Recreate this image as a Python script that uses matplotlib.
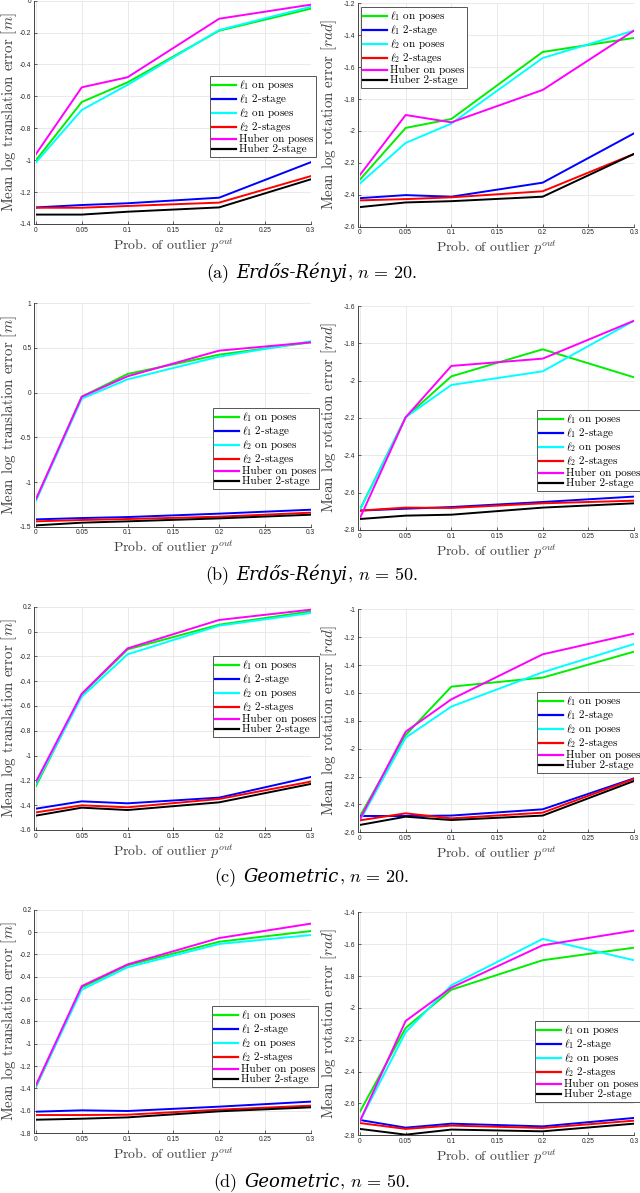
import numpy as np
import matplotlib
matplotlib.use('Agg')
import matplotlib.pyplot as plt
from matplotlib.ticker import MultipleLocator, FuncFormatter

plt.rcParams['mathtext.fontset'] = 'cm'
plt.rcParams['axes.unicode_minus'] = False
plt.rcParams['font.family'] = ['cmr10', 'DejaVu Serif']

W, H = 640, 1193

p_out = [0, 0.05, 0.1, 0.2, 0.3]
methods = [r'$\ell_1$ on poses', r'$\ell_1$ 2-stage', r'$\ell_2$ on poses',
           r'$\ell_2$ 2-stages', 'Huber on poses', 'Huber 2-stage']
colors = ['#00ee00', '#0000ff', '#00ffff', '#ff0000', '#ff00ff', '#000000']

# rows follow the order of `methods`
er20_trans = [
	[-1.000, -0.635, -0.512, -0.188, -0.050],
	[-1.296, -1.281, -1.270, -1.235, -1.013],
	[-1.013, -0.685, -0.528, -0.184, -0.038],
	[-1.298, -1.298, -1.287, -1.266, -1.100],
	[-0.961, -0.543, -0.480, -0.113, -0.025],
	[-1.341, -1.341, -1.323, -1.296, -1.120],
]
er20_rot = [
	[-2.304, -1.981, -1.925, -1.505, -1.417],
	[-2.421, -2.402, -2.412, -2.324, -2.015],
	[-2.329, -2.075, -1.954, -1.543, -1.371],
	[-2.435, -2.427, -2.416, -2.378, -2.144],
	[-2.275, -1.900, -1.946, -1.743, -1.371],
	[-2.477, -2.448, -2.440, -2.412, -2.144],
]
er50_trans = [
	[-1.200, -0.045, 0.209, 0.425, 0.563],
	[-1.418, -1.403, -1.392, -1.354, -1.310],
	[-1.209, -0.067, 0.149, 0.403, 0.575],
	[-1.440, -1.425, -1.414, -1.388, -1.343],
	[-1.190, -0.045, 0.183, 0.470, 0.563],
	[-1.485, -1.455, -1.440, -1.407, -1.366],
]
er50_rot = [
	[-2.689, -2.196, -1.977, -1.832, -1.982],
	[-2.696, -2.686, -2.677, -2.650, -2.621],
	[-2.693, -2.196, -2.023, -1.950, -1.679],
	[-2.696, -2.680, -2.682, -2.657, -2.643],
	[-2.736, -2.196, -1.921, -1.882, -1.679],
	[-2.741, -2.723, -2.718, -2.680, -2.657],
]
geo20_trans = [
	[-1.245, -0.507, -0.144, 0.055, 0.162],
	[-1.428, -1.369, -1.385, -1.339, -1.173],
	[-1.227, -0.525, -0.184, 0.047, 0.149],
	[-1.458, -1.401, -1.417, -1.350, -1.210],
	[-1.210, -0.501, -0.136, 0.093, 0.176],
	[-1.484, -1.420, -1.439, -1.377, -1.229],
]
geo20_rot = [
	[-2.483, -1.902, -1.555, -1.490, -1.304],
	[-2.483, -2.483, -2.480, -2.435, -2.213],
	[-2.514, -1.921, -1.698, -1.452, -1.249],
	[-2.514, -2.464, -2.500, -2.459, -2.217],
	[-2.504, -1.878, -1.646, -1.323, -1.175],
	[-2.547, -2.488, -2.512, -2.480, -2.232],
]
geo50_trans = [
	[-1.388, -0.496, -0.298, -0.087, 0.009],
	[-1.609, -1.597, -1.603, -1.564, -1.519],
	[-1.382, -0.516, -0.316, -0.107, -0.027],
	[-1.639, -1.639, -1.636, -1.591, -1.555],
	[-1.370, -0.484, -0.290, -0.054, 0.075],
	[-1.681, -1.672, -1.660, -1.606, -1.570],
]
geo50_rot = [
	[-2.651, -2.126, -1.886, -1.701, -1.622],
	[-2.704, -2.752, -2.727, -2.744, -2.691],
	[-2.710, -2.153, -1.858, -1.567, -1.701],
	[-2.723, -2.760, -2.739, -2.754, -2.708],
	[-2.710, -2.082, -1.873, -1.607, -1.515],
	[-2.760, -2.796, -2.764, -2.775, -2.727],
]

captions = [('(a)', 'Erdős-Rényi', '$n$ = 20.'),
            ('(b)', 'Erdős-Rényi', '$n$ = 50.'),
            ('(c)', 'Geometric', '$n$ = 20.'),
            ('(d)', 'Geometric', '$n$ = 50.')]

# panel: data, ylim, ytick step, pixel box (left, top, right, bottom), legend corner
panels = [
	(er20_trans, (-1.4, 0), 0.2, (36, 0.7, 310.7, 224), (210, 76)),
	(er20_rot, (-2.6, -1.2), 0.2, (360, 3.3, 634, 226.7), (361, 7)),
	(er50_trans, (-1.5, 1), 0.5, (36, 303.3, 310.7, 526.7), (213, 408)),
	(er50_rot, (-2.8, -1.6), 0.2, (360, 306, 634, 530), (537, 410)),
	(geo20_trans, (-1.6, 0.2), 0.2, (36, 606.7, 310.7, 830), (213, 656)),
	(geo20_rot, (-2.6, -1), 0.2, (360, 609.3, 634, 832.3), (537, 692)),
	(geo50_trans, (-1.8, 0.2), 0.2, (36, 909.7, 310.7, 1133), (212, 1006)),
	(geo50_rot, (-2.8, -1.4), 0.2, (360, 912.3, 634, 1135.3), (535, 1021)),
]
caption_y = [278, 580, 882, 1187]

fig = plt.figure(figsize=(W/100, H/100), dpi=100)

def fmt(v, pos):
	return '%g' % round(v, 3)

for k, (data, ylim, step, box, leg) in enumerate(panels):
	l, t, r, b = box
	ax = fig.add_axes([l/W, 1-b/H, (r-l)/W, (b-t)/H])
	for vals, name, c in zip(data, methods, colors):
		ax.plot(p_out, vals, color=c, lw=1.4, label=name)
	ax.set_xlim(0, 0.3)
	ax.set_ylim(*ylim)
	ax.xaxis.set_major_locator(MultipleLocator(0.05))
	ax.yaxis.set_major_locator(MultipleLocator(step))
	ax.xaxis.set_major_formatter(FuncFormatter(fmt))
	ax.yaxis.set_major_formatter(FuncFormatter(fmt))
	ax.grid(True, color='#e6e6e6', lw=0.6)
	ax.set_axisbelow(True)
	for s in ['top', 'right']:
		ax.spines[s].set_visible(False)
	for s in ['left', 'bottom']:
		ax.spines[s].set_color('#262626')
		ax.spines[s].set_linewidth(0.6)
	ax.spines['left'].set_position(('outward', 1.2))
	ax.tick_params(direction='in', length=2, width=0.5, colors='#262626',
	               labelsize=4.8, pad=2)
	for lab in ax.get_xticklabels() + ax.get_yticklabels():
		lab.set_fontfamily('Liberation Sans')
	ax.set_xlabel(r'Prob. of outlier $p^{out}$', fontsize=10, color='#404040')
	ax.xaxis.set_label_coords(0.5, -12/(b-t))
	if k % 2 == 0:
		ax.set_ylabel(r'Mean log translation error $[m]$', fontsize=10.8, color='#404040')
		ax.yaxis.set_label_coords(-(l-19)/(r-l), 0.5)
	else:
		ax.set_ylabel(r'Mean log rotation error $[rad]$', fontsize=10.8, color='#404040')
		ax.yaxis.set_label_coords(-(l-339)/(r-l), 0.5)
	lg = ax.legend(loc='upper left', bbox_to_anchor=(leg[0]/W, 1-leg[1]/H),
	               bbox_transform=fig.transFigure, fontsize=8, frameon=True,
	               fancybox=False, framealpha=1, edgecolor='#555555',
	               handlelength=2.1, handletextpad=0.3, labelspacing=0.0,
	               borderpad=0.22, borderaxespad=0)
	lg.get_frame().set_linewidth(0.7)
	for h in lg.get_lines():
		h.set_linewidth(1.6)

renderer = fig.canvas.get_renderer()
for (tag, name, tail), yb in zip(captions, caption_y):
	parts = [fig.text(0, 1-yb/H, tag, fontsize=13, va='baseline', fontfamily='cmr10'),
	         fig.text(0, 1-yb/H, name, fontsize=13, va='baseline', style='italic',
	                  fontfamily='DejaVu Serif'),
	         fig.text(0, 1-yb/H, ',', fontsize=13, va='baseline', fontfamily='cmr10'),
	         fig.text(0, 1-yb/H, tail, fontsize=13, va='baseline', fontfamily='cmr10')]
	gaps = [7, 0, 5, 0]
	widths = [p.get_window_extent(renderer).width for p in parts]
	x = 312 - (sum(widths) + sum(gaps)) / 2
	for p, w, g in zip(parts, widths, gaps):
		p.set_x(x / W)
		x += w + g

fig.savefig('out.png', dpi=100)
